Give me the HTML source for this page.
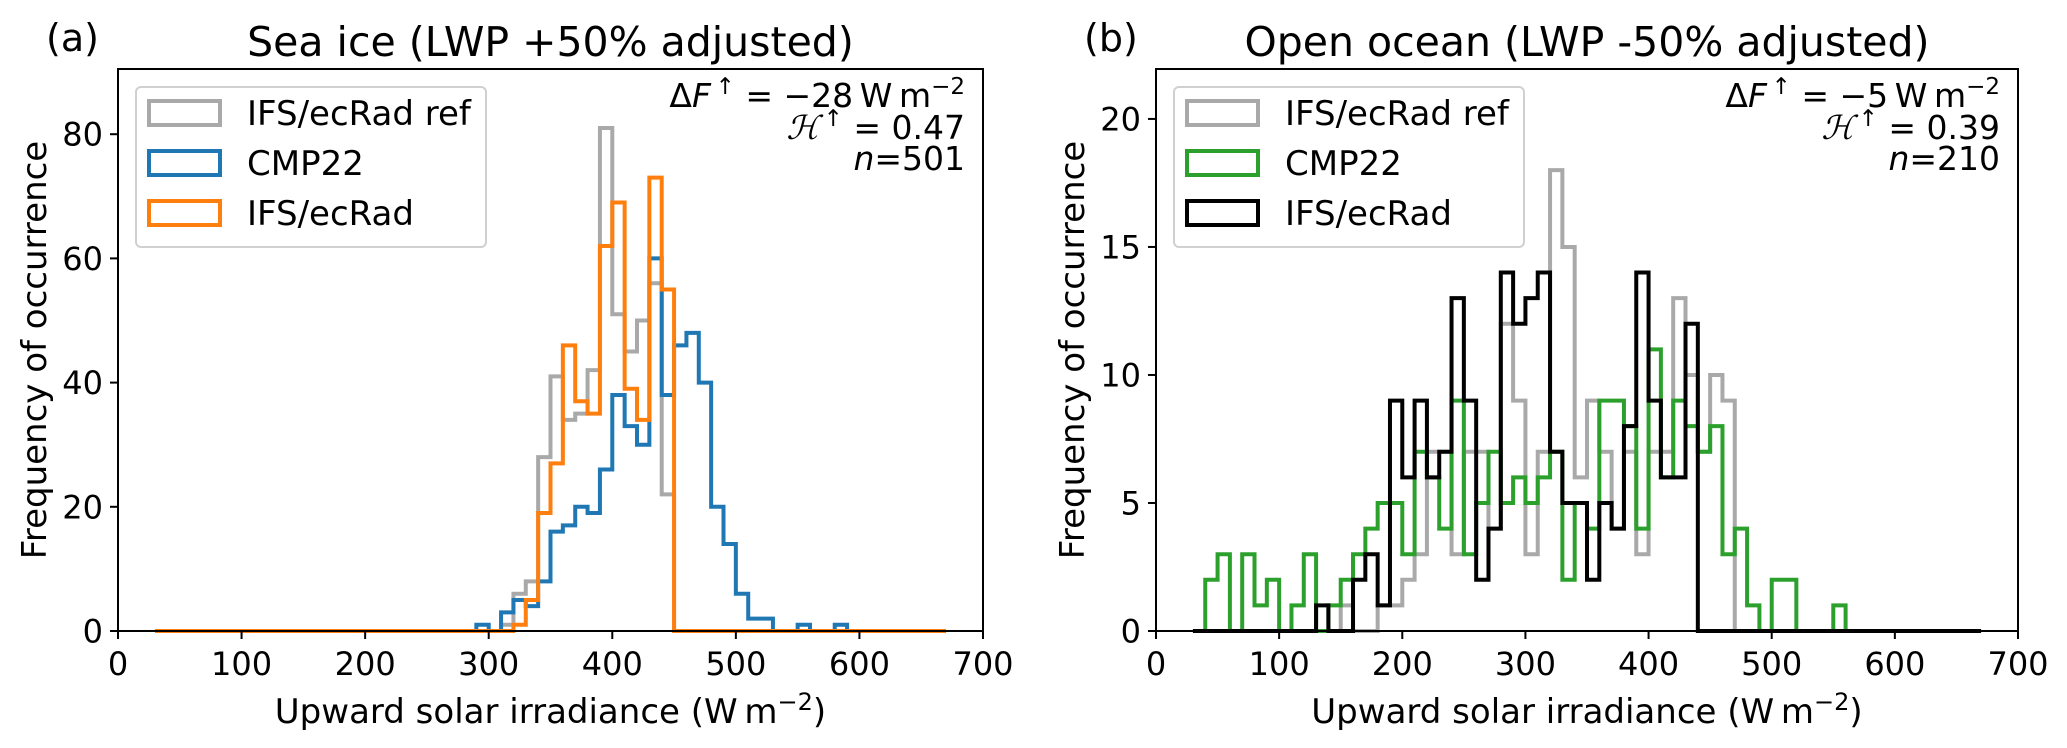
<!DOCTYPE html>
<html><head><meta charset="utf-8"><style>
html,body{margin:0;padding:0;background:#fff}
svg{display:block;font-family:"DejaVu Sans","Liberation Sans",sans-serif}
</style></head><body>
<svg id="fig" width="2067" height="748" viewBox="0 0 2067 748" xmlns="http://www.w3.org/2000/svg">
<rect width="2067" height="748" fill="#fff"/>
<g id="pa"></g>
<g id="pb"></g>
</svg>
<script>
// Bin edges start (W m-2) and width
const binStart = 30;
const binWidth = 10;
const binCount = 64;
const xTicks = [0,100,200,300,400,500,600,700];
const yTicksA = [0,20,40,60,80];
const yTicksB = [0,5,10,15,20];
// Panel (a) counts, keyed by bin start
const aRefBins = [310,320,330,340,350,360,370,380,390,400,410,420,430,440];
const aRefVals = [1,6,8,28,41,34,35,42,81,51,45,50,56,22];
const aCmpBins = [290,300,310,320,330,340,350,360,370,380,390,400,410,420,430,440,450,460,470,480,490,500,510,520,530,540,550,560,570,580];
const aCmpVals = [1,0,3,5,4,8,16,17,20,19,26,38,33,30,60,38,46,48,40,20,14,6,2,2,0,0,1,0,0,1];
const aIfsBins = [320,330,340,350,360,370,380,390,400,410,420,430,440];
const aIfsVals = [1,5,19,27,46,37,35,62,69,39,34,73,55];
// Panel (b) counts
const bRefBins = [150,160,170,180,190,200,210,220,230,240,250,260,270,280,290,300,310,320,330,340,350,360,370,380,390,400,410,420,430,440,450,460];
const bRefVals = [1,0,0,1,1,2,3,7,7,3,7,7,4,12,9,3,7,18,15,6,9,7,4,7,3,7,7,13,10,7,10,9];
const bCmpBins = [40,50,60,70,80,90,100,110,120,130,140,150,160,170,180,190,200,210,220,230,240,250,260,270,280,290,300,310,320,330,340,350,360,370,380,390,400,410,420,430,440,450,460,470,480,490,500,510,520,530,540,550];
const bCmpVals = [2,3,0,3,1,2,0,1,3,0,1,2,3,4,5,5,3,7,6,4,9,3,5,7,5,6,5,6,7,2,5,4,9,9,8,4,11,6,9,8,7,8,3,4,1,0,2,2,0,0,0,1];
const bIfsBins = [130,140,150,160,170,180,190,200,210,220,230,240,250,260,270,280,290,300,310,320,330,340,350,360,370,380,390,400,410,420,430];
const bIfsVals = [1,0,0,2,3,1,9,6,9,6,7,13,9,2,4,14,12,13,14,7,5,5,2,5,4,8,14,9,6,6,12];

const NS = "http://www.w3.org/2000/svg";
function mk(tag, attrs, parent){const e=document.createElementNS(NS,tag);for(const k in attrs)e.setAttribute(k,attrs[k]);parent.appendChild(e);return e;}
function fullCounts(bins, vals){const c=new Array(binCount).fill(0);bins.forEach((b,i)=>{const k=Math.round((b-binStart)/binWidth);if(k>=0&&k<binCount)c[k]=vals[i];});return c;}

function panel(g, o){
  const L=o.left,R=o.right,T=69,B=631;
  const sx=v=>L+(v-0)/700*(R-L);
  const sy=v=>B-v/o.ymax*(B-T);
  o.series.forEach(s=>{
    const c=fullCounts(s.bins,s.vals);
    let d="M"+sx(binStart)+","+sy(0);
    for(let i=0;i<binCount;i++){const x0=binStart+i*binWidth;d+=" L"+sx(x0)+","+sy(c[i])+" L"+sx(x0+binWidth)+","+sy(c[i]);}
    d+=" L"+sx(binStart+binCount*binWidth)+","+sy(0);
    const p=mk("path",{d:d,fill:"none",stroke:s.color,"stroke-width":4,"stroke-linejoin":"miter"},g);
    
    
  });
  const box=mk("rect",{x:L,y:T,width:R-L,height:B-T,fill:"none",stroke:"#000","stroke-width":2},g);
  
  
  xTicks.forEach(v=>{
    const t=mk("line",{x1:sx(v),x2:sx(v),y1:B,y2:B+8,stroke:"#000","stroke-width":2},g);
    
    
    const tl=mk("text",{x:sx(v),y:675,"text-anchor":"middle","font-size":32},g);tl.textContent=v;
    
    
  });
  o.yticks.forEach(v=>{
    const t=mk("line",{x1:L-8,x2:L,y1:sy(v),y2:sy(v),stroke:"#000","stroke-width":2},g);
    
    
    const tl=mk("text",{x:L-15,y:sy(v)+11.5,"text-anchor":"end","font-size":32},g);tl.textContent=v;
    
    
  });
  const xl=mk("text",{x:(L+R)/2,y:723,"text-anchor":"middle","font-size":34},g);
  xl.innerHTML='Upward solar irradiance (W\u2009m<tspan dy="-13" font-size="24">\u22122</tspan><tspan dy="13">)</tspan>';
  
  
  const yl=mk("text",{x:0,y:0,"text-anchor":"middle","font-size":34,transform:"translate("+(L-72)+","+((T+B)/2)+") rotate(-90)"},g);
  yl.textContent="Frequency of occurrence";
  
  
  const ti=mk("text",{x:(L+R)/2,y:56,"text-anchor":"middle","font-size":41},g);ti.textContent=o.title;
  
  
  const pl=mk("text",{x:L-72,y:51,"font-size":38},g);pl.textContent=o.label;
  
  
  const lg=mk("g",{},g);
  
  
  mk("rect",{x:L+18,y:87,width:350,height:160,rx:5,fill:"#fff","fill-opacity":0.8,stroke:"#d0d0d0","stroke-width":2},lg);
  o.series.forEach((s,i)=>{
    const cy=113+i*50;
    const e=mk("g",{},lg);
    
    
    mk("rect",{x:L+31,y:cy-12,width:71,height:24,fill:"none",stroke:s.color,"stroke-width":4},e);
    const t=mk("text",{x:L+129,y:cy+12,"font-size":34},e);t.textContent=s.label;
  });
  const sxr=R-18;
  const st=mk("g",{"font-size":33,"text-anchor":"end"},g);
  
  
  const t1=mk("text",{x:sxr,y:107},st);
  t1.innerHTML='Δ<tspan font-style="italic">F</tspan><tspan dy="-13" font-size="23">\u2009↑</tspan><tspan dy="13"> = \u2212'+o.dF+'\u2009W\u2009m</tspan><tspan dy="-13" font-size="23">\u22122</tspan>';
  const t2=mk("text",{x:sxr,y:139},st);
  t2.innerHTML='<tspan font-style="italic" font-family="Liberation Serif, serif">ℋ</tspan><tspan dy="-13" font-size="23">\u2009↑</tspan><tspan dy="13"> = '+o.H+'</tspan>';
  const t3=mk("text",{x:sxr,y:170},st);
  t3.innerHTML='<tspan font-style="italic">n</tspan>='+o.n;
}
panel(document.getElementById("pa"),{left:118,right:983,ymax:90.5,yticks:yTicksA,title:"Sea ice (LWP +50% adjusted)",label:"(a)",dF:"28",H:"0.47",n:"501",
  series:[{name:"hist-ifs-ecrad-ref",label:"IFS/ecRad ref",color:"#a9a9a9",bins:aRefBins,vals:aRefVals},
          {name:"hist-cmp22",label:"CMP22",color:"#1f77b4",bins:aCmpBins,vals:aCmpVals},
          {name:"hist-ifs-ecrad",label:"IFS/ecRad",color:"#ff7f0e",bins:aIfsBins,vals:aIfsVals}]});
panel(document.getElementById("pb"),{left:1156,right:2018,ymax:21.95,yticks:yTicksB,title:"Open ocean (LWP -50% adjusted)",label:"(b)",dF:"5",H:"0.39",n:"210",
  series:[{name:"hist-ifs-ecrad-ref",label:"IFS/ecRad ref",color:"#a9a9a9",bins:bRefBins,vals:bRefVals},
          {name:"hist-cmp22",label:"CMP22",color:"#2ca02c",bins:bCmpBins,vals:bCmpVals},
          {name:"hist-ifs-ecrad",label:"IFS/ecRad",color:"#000000",bins:bIfsBins,vals:bIfsVals}]});
</script>
</body></html>
